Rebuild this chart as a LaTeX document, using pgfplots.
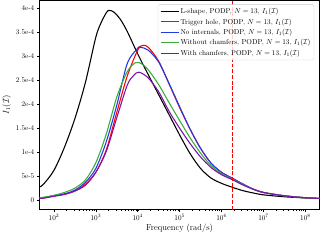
\documentclass[border=0pt]{standalone}
\usepackage{pgfplots}
\pgfplotsset{compat=1.18}
\definecolor{mblue}{RGB}{30,60,230}
\definecolor{mgreen}{RGB}{60,170,60}
\definecolor{mpurple}{RGB}{125,20,170}
\begin{document}
\begin{tikzpicture}
\begin{axis}[
  scale only axis, width=390pt, height=291pt,
  xmode=log, xmin=45, xmax=2.2e8,
  ymin=-0.195, ymax=4.17,
  xtick={1e2,1e3,1e4,1e5,1e6,1e7,1e8},
  ytick={0,0.5,1,1.5,2,2.5,3,3.5,4},
  yticklabels={0,5e-5,1e-4,1.5e-4,2e-4,2.5e-4,3e-4,3.5e-4,4e-4},
  tick align=outside, tick pos=left,
  major tick length=3.5pt, minor tick length=2pt,
  every tick/.style={black, line width=0.8pt},
  minor tick style={line width=0.6pt},
  axis line style={line width=0.8pt},
  tick label style={font=\normalsize},
  xlabel={Frequency (rad/s)}, ylabel={$I_1(\mathcal{I})$},
  label style={font=\large},
  xlabel style={yshift=2pt},
  legend cell align=left,
  legend style={at={(0.98,0.98)}, anchor=north east, draw=black!20, rounded corners=2pt,
    fill=white, fill opacity=0.8, text opacity=1, font=\normalsize, row sep=1.5pt, inner sep=3pt},
  legend image code/.code={\draw[#1] (0pt,0pt) -- (25pt,0pt);},
  every axis plot/.append style={line width=1.5pt, smooth},
]
\addplot[black] coordinates {(44.7,0.27)(56.2,0.33)(100,0.62)(177.8,1.10)(316.2,1.70)(562.3,2.45)(1000,3.40)(1349,3.71)(1778,3.91)(2042,3.96)(2399,3.95)(2818,3.91)(3802,3.78)(5623,3.52)(1e4,3.05)(17783,2.62)(31623,2.20)(56234,1.78)(1e5,1.36)(177828,0.97)(316228,0.66)(562341,0.46)(1e6,0.35)(1778279,0.27)(3162278,0.20)(5623413,0.15)(1e7,0.11)(3.162e7,0.07)(1e8,0.045)(2.239e8,0.035)};
\addlegendentry{L-shape, PODP, $N=13$, $I_1(\mathcal{I})$}
\addplot[red] coordinates {(44.7,0.04)(56.2,0.045)(100,0.085)(177.8,0.12)(316.2,0.19)(562.3,0.33)(1000,0.58)(1778,1.05)(3162,1.83)(5623,2.59)(1e4,3.13)(13183,3.23)(17783,3.19)(31623,2.90)(56234,2.42)(1e5,1.93)(177828,1.48)(316228,1.08)(562341,0.77)(1e6,0.58)(1778279,0.46)(3162278,0.34)(5623413,0.23)(1e7,0.16)(3.162e7,0.09)(1e8,0.05)(2.239e8,0.035)};
\addlegendentry{Trigger hole, PODP, $N=13$, $I_1(\mathcal{I})$}
\addplot[mblue] coordinates {(44.7,0.04)(56.2,0.05)(100,0.095)(177.8,0.13)(316.2,0.21)(562.3,0.37)(1000,0.66)(1778,1.22)(3162,1.98)(5623,2.85)(1e4,3.17)(11482,3.19)(17783,3.13)(31623,2.88)(56234,2.43)(1e5,1.95)(177828,1.48)(316228,1.08)(562341,0.77)(1e6,0.58)(1778279,0.46)(3162278,0.34)(5623413,0.23)(1e7,0.16)(3.162e7,0.09)(1e8,0.05)(2.239e8,0.035)};
\addlegendentry{No internals, PODP, $N=13$, $I_1(\mathcal{I})$}
\addplot[mgreen] coordinates {(44.7,0.045)(56.2,0.06)(100,0.10)(177.8,0.16)(316.2,0.25)(562.3,0.42)(1000,0.78)(1778,1.38)(3162,2.15)(5623,2.68)(8913,2.87)(12589,2.84)(17783,2.72)(31623,2.41)(56234,2.03)(1e5,1.66)(177828,1.30)(316228,0.98)(562341,0.72)(1e6,0.55)(1778279,0.44)(3162278,0.33)(5623413,0.23)(1e7,0.16)(3.162e7,0.09)(1e8,0.05)(2.239e8,0.035)};
\addlegendentry{Without chamfers, PODP, $N=13$, $I_1(\mathcal{I})$}
\addplot[mpurple] coordinates {(44.7,0.035)(56.2,0.04)(100,0.08)(177.8,0.12)(316.2,0.19)(562.3,0.31)(1000,0.58)(1778,1.02)(3162,1.72)(5623,2.40)(7943,2.60)(10715,2.67)(17783,2.55)(31623,2.26)(56234,1.85)(1e5,1.50)(177828,1.18)(316228,0.90)(562341,0.68)(1e6,0.53)(1778279,0.43)(3162278,0.32)(5623413,0.23)(1e7,0.16)(3.162e7,0.09)(1e8,0.05)(2.239e8,0.035)};
\addlegendentry{With chamfers, PODP, $N=13$, $I_1(\mathcal{I})$}
\addplot[red, dashed, line width=1.5pt, dash pattern=on 5.5pt off 2.4pt, forget plot] coordinates {(1.8e6,-0.195)(1.8e6,4.17)};
\end{axis}
\end{tikzpicture}
\end{document}
